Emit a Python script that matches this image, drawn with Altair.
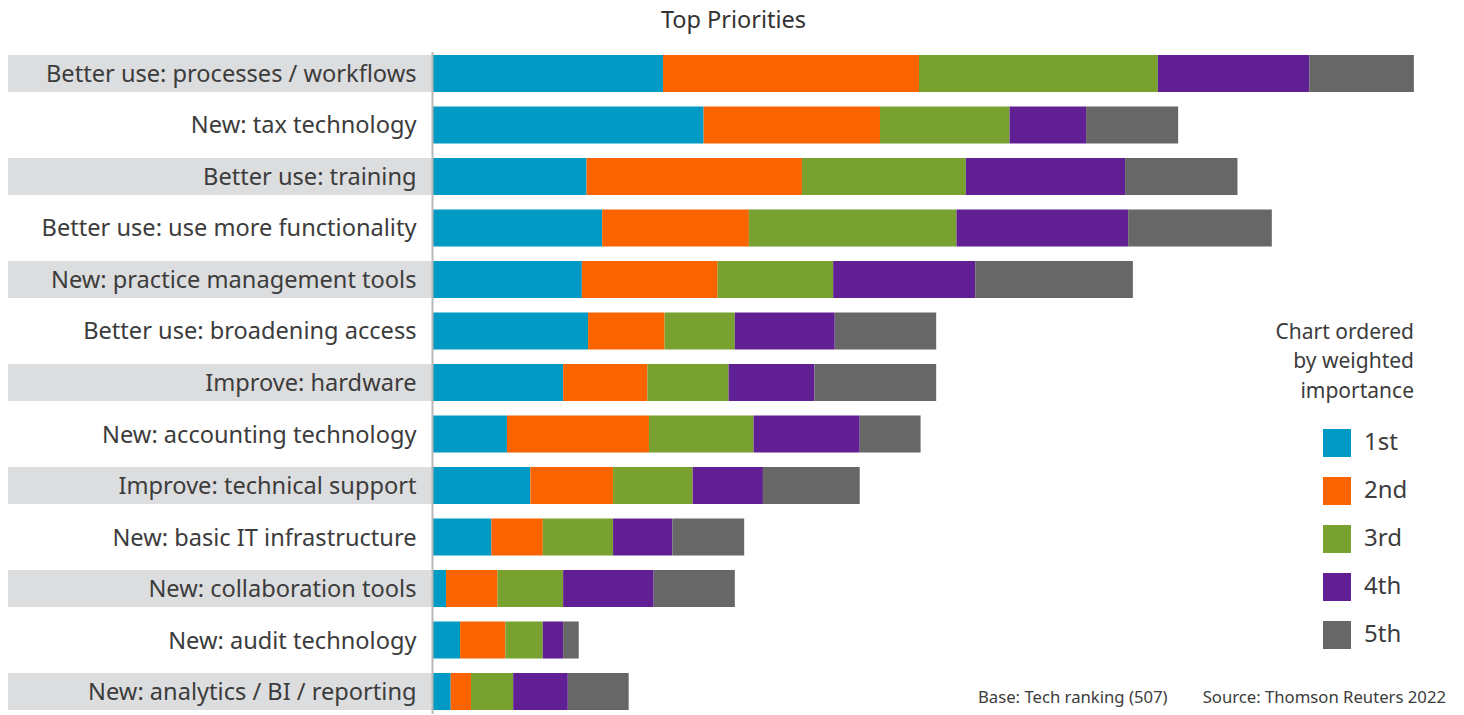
import altair as alt
import pandas as pd

categories = [
    "Better use: processes / workflows",
    "New: tax technology",
    "Better use: training",
    "Better use: use more functionality",
    "New: practice management tools",
    "Better use: broadening access",
    "Improve: hardware",
    "New: accounting technology",
    "Improve: technical support",
    "New: basic IT infrastructure",
    "New: collaboration tools",
    "New: audit technology",
    "New: analytics / BI / reporting",
]

first = [14.8, 17.4, 9.9, 10.9, 9.6, 10.0, 8.4, 4.8, 6.3, 3.8, 0.9, 1.8, 1.2]
second = [16.4, 11.3, 13.8, 9.4, 8.7, 4.9, 5.4, 9.1, 5.3, 3.3, 3.3, 2.9, 1.3]
third = [15.3, 8.3, 10.5, 13.3, 7.4, 4.5, 5.2, 6.7, 5.1, 4.5, 4.2, 2.4, 2.7]
fourth = [9.7, 4.9, 10.2, 11.0, 9.1, 6.4, 5.5, 6.8, 4.5, 3.8, 5.8, 1.3, 3.5]
fifth = [6.7, 5.9, 7.2, 9.2, 10.1, 6.5, 7.8, 3.9, 6.2, 4.6, 5.2, 1.0, 3.9]

ranks = ["1st", "2nd", "3rd", "4th", "5th"]
rank_colors = ["#009ac4", "#fa6400", "#78a130", "#611f94", "#676767"]

title_text = "Top Priorities"
note_text = "Chart ordered\nby weighted\nimportance"
base_text = "Base: Tech ranking (507)"
source_text = "Source: Thomson Reuters 2022"

FONT = "Noto Sans"
TXT = "#3c3c3c"

rows = []
for i, cat in enumerate(categories):
    for j, vals in enumerate([first, second, third, fourth, fifth]):
        rows.append({"item": cat, "rank": ranks[j], "order": j, "value": vals[i]})
df = pd.DataFrame(rows)

bands_df = pd.DataFrame({"item": categories[::2]})

y_scale = alt.Scale(domain=categories, paddingInner=0.28, paddingOuter=0.067)

y_axis = alt.Axis(
    title=None, ticks=False, labelFontSize=23.6, labelColor=TXT, labelFont=FONT,
    labelPadding=16, labelOffset=1.5, domainColor="#b8b8b8", domainWidth=2,
    zindex=1, labelLimit=600,
)

bands = alt.Chart(bands_df).mark_bar(color="#dcdddf", clip=False).encode(
    y=alt.Y("item:N", scale=y_scale, axis=y_axis),
    x=alt.value(-424),
    x2=alt.value(0),
)

bars = alt.Chart(df).mark_bar().encode(
    y=alt.Y("item:N", scale=y_scale, axis=y_axis),
    x=alt.X("value:Q", stack="zero", scale=alt.Scale(domain=[0, 65.6], nice=False), axis=None),
    color=alt.Color(
        "rank:N",
        scale=alt.Scale(domain=ranks, range=rank_colors),
        legend=alt.Legend(
            title=None, orient="none", legendX=891, legendY=377.5,
            symbolType="square", symbolSize=784, symbolStrokeWidth=0,
            labelFontSize=24, labelColor=TXT, labelFont=FONT,
            labelOffset=13, rowPadding=20, padding=0,
        ),
    ),
    order=alt.Order("order:Q"),
)

title = alt.Chart(pd.DataFrame({"t": [title_text]})).mark_text(
    align="center", baseline="alphabetic", fontSize=23.5, font=FONT, color="#333333",
).encode(x=alt.value(301.5), y=alt.value(-23.5), text="t:N")

note = alt.Chart(pd.DataFrame({"t": [note_text]})).mark_text(
    align="right", baseline="alphabetic", lineBreak="\n", lineHeight=29.5,
    fontSize=21, font=FONT, color=TXT,
).encode(x=alt.value(982), y=alt.value(287), text="t:N")

base = alt.Chart(pd.DataFrame({"t": [base_text]})).mark_text(
    align="left", baseline="alphabetic", fontSize=16.7, font=FONT, color=TXT,
).encode(x=alt.value(546), y=alt.value(651.5), text="t:N")

source = alt.Chart(pd.DataFrame({"t": [source_text]})).mark_text(
    align="right", baseline="alphabetic", fontSize=16.7, font=FONT, color=TXT,
).encode(x=alt.value(1014), y=alt.value(651.5), text="t:N")

chart = alt.layer(bands, bars, title, note, base, source).properties(
    width=1024, height=662,
    autosize=alt.AutoSizeParams(type="none"),
    padding={"left": 424, "top": 43.5, "right": 0, "bottom": 0},
).configure_view(stroke=None)

chart.save("out.html", embed_options={"renderer": "svg", "actions": False})
